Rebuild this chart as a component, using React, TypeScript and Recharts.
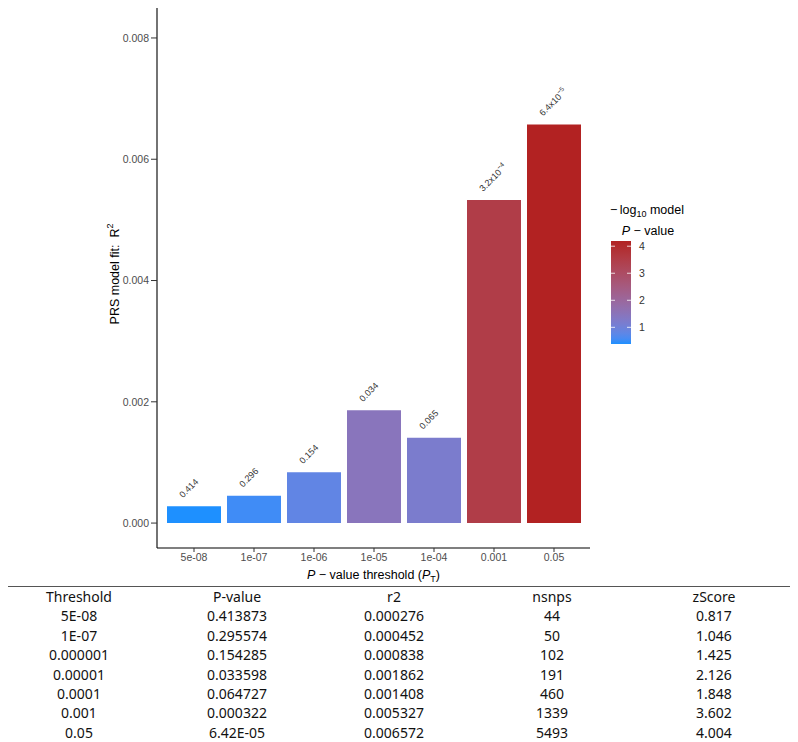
import React from 'react';
import { BarChart, Bar, XAxis, YAxis, Cell, LabelList } from 'recharts';

// chart data
const thresholds = ['5e-08', '1e-07', '1e-06', '1e-05', '1e-04', '0.001', '0.05'];
const r2Values = [0.000276, 0.000452, 0.000838, 0.001862, 0.001408, 0.005327, 0.006572];
const pValues = [0.413873, 0.295574, 0.154285, 0.033598, 0.064727, 0.000322, 6.42e-5];
const yTicks = [0, 0.002, 0.004, 0.006, 0.008];
const legendTicks = [1, 2, 3, 4];

// table below the chart
const tableHeaders = ['Threshold', 'P-value', 'r2', 'nsnps', 'zScore'];
const tableThresholds = ['5E-08', '1E-07', '0.000001', '0.00001', '0.0001', '0.001', '0.05'];
const tablePValues = ['0.413873', '0.295574', '0.154285', '0.033598', '0.064727', '0.000322', '6.42E-05'];
const tableR2 = ['0.000276', '0.000452', '0.000838', '0.001862', '0.001408', '0.005327', '0.006572'];
const tableNsnps = ['44', '50', '102', '191', '460', '1339', '5493'];
const tableZScores = ['0.817', '1.046', '1.425', '2.126', '1.848', '3.602', '4.004'];

const LOW = '#1E90FF';
const HIGH = '#B22222';
const FONT = '"Liberation Sans", Arial, sans-serif';

// --- Lab gradient like ggplot's scale_fill_gradient ---
const toLin = (c: number) => {
  c /= 255;
  return c <= 0.04045 ? c / 12.92 : Math.pow((c + 0.055) / 1.055, 2.4);
};
const fromLin = (c: number) => {
  const v = c <= 0.0031308 ? 12.92 * c : 1.055 * Math.pow(c, 1 / 2.4) - 0.055;
  return Math.round(Math.max(0, Math.min(1, v)) * 255);
};
const Xn = 0.95047, Yn = 1, Zn = 1.08883;
const fLab = (t: number) => (t > Math.pow(6 / 29, 3) ? Math.cbrt(t) : t / (3 * Math.pow(6 / 29, 2)) + 4 / 29);
const fInv = (t: number) => (t > 6 / 29 ? t * t * t : 3 * Math.pow(6 / 29, 2) * (t - 4 / 29));

const hexToLab = (hex: string) => {
  const r = toLin(parseInt(hex.slice(1, 3), 16));
  const g = toLin(parseInt(hex.slice(3, 5), 16));
  const b = toLin(parseInt(hex.slice(5, 7), 16));
  const X = 0.4124564 * r + 0.3575761 * g + 0.1804375 * b;
  const Y = 0.2126729 * r + 0.7151522 * g + 0.072175 * b;
  const Z = 0.0193339 * r + 0.119192 * g + 0.9503041 * b;
  const fy = fLab(Y / Yn);
  return [116 * fy - 16, 500 * (fLab(X / Xn) - fy), 200 * (fy - fLab(Z / Zn))];
};

const labToHex = ([L, a, b]: number[]) => {
  const fy = (L + 16) / 116;
  const X = Xn * fInv(fy + a / 500);
  const Y = Yn * fInv(fy);
  const Z = Zn * fInv(fy - b / 200);
  const r = fromLin(3.2404542 * X - 1.5371385 * Y - 0.4985314 * Z);
  const g = fromLin(-0.969266 * X + 1.8760108 * Y + 0.041556 * Z);
  const bl = fromLin(0.0556434 * X - 0.2040259 * Y + 1.0572252 * Z);
  return '#' + [r, g, bl].map((v) => v.toString(16).padStart(2, '0')).join('');
};

const lowLab = hexToLab(LOW);
const highLab = hexToLab(HIGH);
const mix = (t: number) => labToHex(lowLab.map((v, i) => v + (highLab[i] - v) * t));

const logP = pValues.map((p) => -Math.log10(p));
const minLog = Math.min(...logP);
const maxLog = Math.max(...logP);
const colorFor = (v: number) => mix((v - minLog) / (maxLog - minLog));

const formatP = (p: number) => {
  if (p >= 0.001) return { base: p.toFixed(3), exp: '' };
  const e = Math.floor(Math.log10(p));
  return { base: (p / Math.pow(10, e)).toFixed(1) + 'x10', exp: '\u2212' + Math.abs(e) };
};

const data = thresholds.map((t, i) => ({
  threshold: t,
  r2: r2Values[i],
  p: pValues[i],
  color: colorFor(logP[i]),
}));

const BarLabel = (props: any) => {
  const { x, y, width, index } = props;
  const { base, exp } = formatP(pValues[index]);
  const ax = x + width / 2 - 11;
  const ay = y - 8;
  return (
    <text
      x={ax}
      y={ay}
      transform={`rotate(-45 ${ax} ${ay})`}
      fontSize={9}
      fill="#333"
      fontFamily={FONT}
      textAnchor="start"
    >
      {base}
      {exp && (
        <tspan dy={-4} fontSize={6.5}>
          {exp}
        </tspan>
      )}
    </text>
  );
};

const YTitle = (props: any) => {
  const { viewBox } = props;
  const cx = 115;
  const cy = viewBox.y + viewBox.height / 2;
  return (
    <text
      x={cx}
      y={cy}
      transform={`rotate(-90 ${cx} ${cy})`}
      textAnchor="middle"
      dominantBaseline="central"
      fontSize={12.5}
      fill="#000"
      fontFamily={FONT}
    >
      PRS model fit:{'\u00a0\u00a0'}R
      <tspan dy={-5} fontSize={9}>2</tspan>
    </text>
  );
};

const XTitle = (props: any) => {
  const { viewBox } = props;
  const cx = viewBox.x + viewBox.width / 2;
  const cy = viewBox.y + 31;
  return (
    <text x={cx} y={cy} textAnchor="middle" fontSize={12.5} fill="#000" fontFamily={FONT}>
      <tspan fontStyle="italic">P</tspan>
      {' \u2212 value threshold ('}
      <tspan fontStyle="italic">P</tspan>
      <tspan dy={3} fontSize={9}>T</tspan>
      <tspan dy={-3}>)</tspan>
    </text>
  );
};

const ColorLegend = () => {
  const bx = 611, by = 241, bw = 20, bh = 103;
  const stops = Array.from({ length: 21 }, (_, i) => i / 20);
  const yFor = (v: number) => by + bh - ((v - minLog) / (maxLog - minLog)) * bh;
  return (
    <svg width={798} height={586} style={{ position: 'absolute', left: 0, top: 0, pointerEvents: 'none' }}>
      <defs>
        <linearGradient id="legendGrad" x1="0" y1="1" x2="0" y2="0">
          {stops.map((s) => (
            <stop key={s} offset={s} stopColor={mix(s)} />
          ))}
        </linearGradient>
      </defs>
      <text x={647} y={214} textAnchor="middle" fontSize={12.5} fontFamily={FONT} fill="#000">
        {'\u2212\u2009log'}
        <tspan dy={3} fontSize={9}>10</tspan>
        <tspan dy={-3}>{' model'}</tspan>
      </text>
      <text x={648} y={235} textAnchor="middle" fontSize={12.5} fontFamily={FONT} fill="#000">
        <tspan fontStyle="italic">P</tspan>
        {' \u2212 value'}
      </text>
      <rect x={bx} y={by} width={bw} height={bh} fill="url(#legendGrad)" />
      {legendTicks.map((t) => (
        <g key={t}>
          <line x1={bx} x2={bx + 4} y1={yFor(t)} y2={yFor(t)} stroke="#fff" strokeWidth={0.8} />
          <line x1={bx + bw - 4} x2={bx + bw} y1={yFor(t)} y2={yFor(t)} stroke="#fff" strokeWidth={0.8} />
          <text x={639} y={yFor(t)} dominantBaseline="central" fontSize={10.5} fontFamily={FONT} fill="#333">
            {t}
          </text>
        </g>
      ))}
    </svg>
  );
};

const columnCenters = [79, 237, 394, 552, 714];
const ROW_H = 19.4;

const DataTable = () => {
  const rows = tableThresholds.map((t, i) => [t, tablePValues[i], tableR2[i], tableNsnps[i], tableZScores[i]]);
  const all = [tableHeaders, ...rows];
  return (
    <div
      style={{
        position: 'absolute',
        left: 0,
        top: 586,
        width: 798,
        height: all.length * ROW_H,
        borderTop: '1px solid #555',
        borderBottom: '2px solid #777',
        fontFamily: '"Noto Sans", sans-serif',
        fontSize: 14,
        color: '#111',
      }}
    >
      {all.map((row, r) =>
        row.map((cell, c) => (
          <div
            key={`${r}-${c}`}
            style={{
              position: 'absolute',
              left: columnCenters[c] - 70,
              width: 140,
              top: r * ROW_H,
              height: ROW_H,
              lineHeight: `${ROW_H}px`,
              textAlign: 'center',
            }}
          >
            {cell}
          </div>
        ))
      )}
    </div>
  );
};

export default function App() {
  return (
    <div
      style={{
        position: 'relative',
        width: 798,
        height: 742,
        margin: '-8px 0 0 -8px',
        background: '#fff',
        overflow: 'hidden',
      }}
    >
      <BarChart
        width={798}
        height={586}
        data={data}
        margin={{ top: 0, right: 208, bottom: 0, left: 0 }}
      >
        <XAxis
          dataKey="threshold"
          height={38}
          padding={{ left: 7, right: 6 }}
          axisLine={{ stroke: '#000', strokeWidth: 1.1 }}
          tickLine={{ stroke: '#333' }}
          tickSize={4}
          tickMargin={2}
          tick={{ fontSize: 10.5, fill: '#4D4D4D', fontFamily: FONT }}
          interval={0}
          label={<XTitle />}
        />
        <YAxis
          width={157}
          domain={[-0.000411, 0.008626]}
          ticks={yTicks}
          tickFormatter={(v: number) => v.toFixed(3)}
          axisLine={{ stroke: '#000', strokeWidth: 1.1 }}
          tickLine={{ stroke: '#333' }}
          tickSize={6}
          tickMargin={2}
          tick={{ fontSize: 10.5, fill: '#4D4D4D', fontFamily: FONT }}
          allowDataOverflow
          label={<YTitle />}
        />
        <Bar dataKey="r2" barSize={54} isAnimationActive={false}>
          {data.map((d) => (
            <Cell key={d.threshold} fill={d.color} />
          ))}
          <LabelList dataKey="r2" content={<BarLabel />} />
        </Bar>
      </BarChart>
      <ColorLegend />
      <DataTable />
    </div>
  );
}
